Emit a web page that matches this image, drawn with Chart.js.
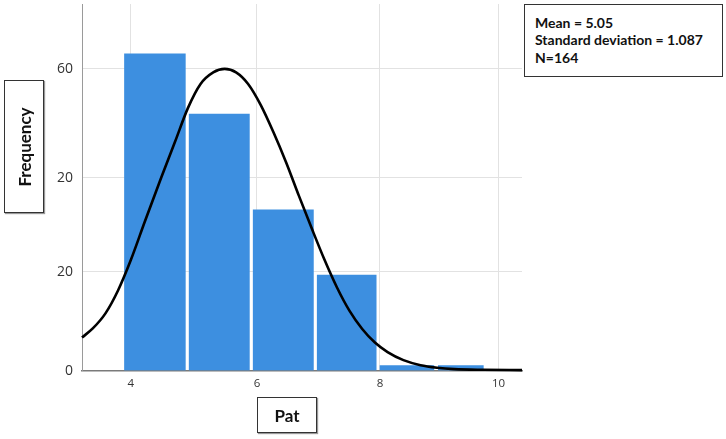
<!DOCTYPE html>
<html><head><meta charset="utf-8">
<script src="https://cdn.jsdelivr.net/npm/chart.js@4"></script>
<style>
html,body{margin:0;padding:0;background:#fff;}
#wrap{position:relative;width:726px;height:439px;overflow:hidden;}
canvas{position:absolute;left:0;top:0;}
.box{position:absolute;border:1.5px solid #333;background:#fff;box-sizing:border-box;font-family:Lato,'Open Sans',sans-serif;font-weight:bold;color:#111;}
.rot{position:absolute;left:50%;top:50%;transform:translate(-50%,-50%) rotate(-90deg);white-space:nowrap;}
.ctr{position:absolute;left:50%;top:50%;transform:translate(-50%,-50%);white-space:nowrap;}
</style></head><body>
<div id="wrap">
<canvas id="c" width="726" height="439"></canvas>
<div class="box" style="left:4px;top:80px;width:40px;height:133px;box-shadow:1px 1px 1px #999;"><span class="rot" style="font-size:17px;">Frequency</span></div>
<div class="box" style="left:257px;top:397px;width:60px;height:36px;box-shadow:1px 1px 1px #999;"><span class="ctr" style="font-size:17px;">Pat</span></div>
<div class="box" style="left:524px;top:4px;width:199px;height:73px;padding:9px 0 0 10px;font-size:14px;line-height:17.3px;">
<div>Mean = 5.05</div><div>Standard deviation = 1.087</div><div>N=164</div></div>
</div>
<script>
// ---- data ----
const binLeft  = [4.00, 5.02, 6.03, 7.04, 8.03, 8.95];
const binRight = [4.96, 5.97, 6.98, 7.97, 8.88, 9.66];
const counts   = [63, 51, 32, 19, 1, 1];
const curveX = [3.33, 3.50, 3.70, 3.90, 4.10, 4.32, 4.58, 4.80, 5.00, 5.20, 5.40, 5.58, 5.76, 5.95, 6.15, 6.35, 6.55, 6.75, 6.95, 7.15, 7.35, 7.55, 7.75, 7.95, 8.15, 8.40, 8.67, 8.93, 9.20, 9.66, 10.27];
const curveY = [6.6, 8.4, 11.4, 16.0, 22.0, 29.6, 38.4, 45.6, 52.2, 57.0, 59.3, 60.0, 59.3, 57.0, 52.8, 47.4, 41.4, 34.8, 28.4, 22.2, 16.6, 11.9, 8.3, 5.6, 3.7, 2.1, 1.1, 0.6, 0.32, 0.18, 0.12];
const yTickValues = [0, 19.7, 38.4, 60];
const yTickLabels = ['0', '20', '20', '60'];
const xTickValues = [4.1, 6.09, 8.03, 9.9];
const xTickLabels = ['4', '6', '8', '10'];

// ---- layout / style ----
const X_MIN = 3.33, X_MAX = 10.27, Y_MIN = 0, Y_MAX = 72.9;
const PLOT_W = 440;
const pxPerUnit = PLOT_W / (X_MAX - X_MIN);
const BAR_COLOR = '#3d8fe0';

const barDatasets = counts.map((c, i) => ({
  type: 'bar',
  data: [{x: (binLeft[i] + binRight[i]) / 2, y: c}],
  barThickness: (binRight[i] - binLeft[i]) * pxPerUnit,
  grouped: false,
  backgroundColor: BAR_COLOR,
  borderWidth: 0,
  order: 1
}));

const curveDataset = {
  type: 'line',
  data: curveX.map((x, i) => ({x, y: curveY[i]})),
  borderColor: '#000',
  borderWidth: 2.6,
  pointRadius: 0,
  cubicInterpolationMode: 'monotone',
  fill: false,
  clip: false,
  order: 0
};

new Chart(document.getElementById('c'), {
  type: 'bar',
  data: {datasets: [curveDataset, ...barDatasets]},
  options: {
    responsive: false,
    animation: false,
    devicePixelRatio: 1,
    layout: {padding: {left: 0, right: 204, top: 4, bottom: 0}},
    plugins: {legend: {display: false}, tooltip: {enabled: false}},
    scales: {
      x: {
        type: 'linear', min: X_MIN, max: X_MAX, offset: false,
        afterFit: s => { s.height = 68.3; s.paddingLeft = 0; s.paddingRight = 0; },
        afterBuildTicks: s => { s.ticks = xTickValues.map(v => ({value: v})); },
        ticks: {
          callback: (v, i) => xTickLabels[i],
          autoSkip: false, maxRotation: 0, padding: 6,
          color: '#333', font: {family: "'Open Sans', sans-serif", size: 11.5}
        },
        grid: {color: '#e2e2e2', lineWidth: 1, drawTicks: false, offset: false},
        border: {color: '#7a7a7a', width: 1.5}
      },
      y: {
        type: 'linear', min: Y_MIN, max: Y_MAX,
        afterFit: s => { s.width = 82; s.paddingTop = 0; s.paddingBottom = 0; },
        afterBuildTicks: s => { s.ticks = yTickValues.map(v => ({value: v})); },
        ticks: {
          callback: (v, i) => yTickLabels[i],
          autoSkip: false, padding: 9,
          color: '#333', font: {family: "'Open Sans', sans-serif", size: 14}
        },
        grid: {color: '#e2e2e2', lineWidth: 1, drawTicks: false},
        border: {color: '#9a9a9a', width: 1}
      }
    }
  }
});
</script>
</body></html>
